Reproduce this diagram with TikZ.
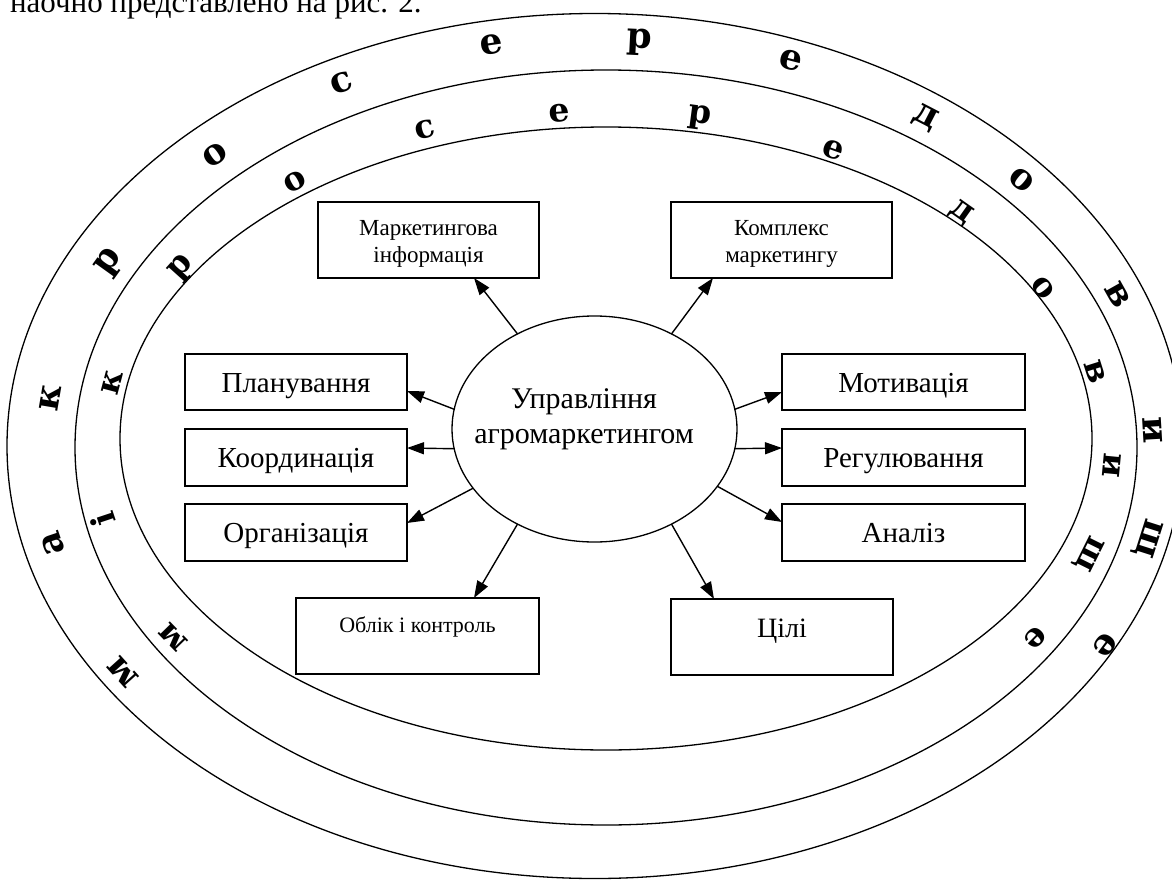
\documentclass[tikz,border=0pt]{standalone}
\usepackage{fontspec}
\setmainfont{Liberation Serif}
\newfontfamily\ringfont{DejaVu Serif}
\usetikzlibrary{arrows.meta,shapes.geometric}
\newcommand\myfs[1]{\fontsize{#1pt}{#1pt}\selectfont}
\begin{document}
\begin{tikzpicture}[x=1pt,y=-1pt,line width=1.3pt,
  box/.style={draw,rectangle,inner sep=0pt,outer sep=0pt},
  txt/.style={anchor=base,inner sep=0pt,outer sep=0pt},
  arr/.style={-{Triangle[length=17pt,width=12pt]},line width=1.4pt},
  ringout/.style={inner sep=0pt,font=\ringfont\bfseries\myfs{36}},
  ringin/.style={inner sep=0pt,font=\ringfont\bfseries\myfs{33}}]
\useasboundingbox (0,0) rectangle (1172,880);
\node[txt,anchor=base west,font=\myfs{31}] (top) at (10,13) {наочно представлено на рис. 2.};
% rings
\draw (595,446) ellipse [x radius=588pt,y radius=432.5pt];
\draw (606,447.5) ellipse [x radius=531pt,y radius=377.5pt];
\draw (606,438.5) ellipse [x radius=486pt,y radius=311.5pt];
% outer ring letters
\foreach \ch/\px/\py [count=\i] in {м/123/672,а/53/543,к/50/398,р/110/263,о/215/155,с/342/83,е/492/45,р/639/42,е/791/60,д/925/118,о/1022/180,в/1118/295,и/1153/430,щ/1147/538,е/1105/645}{
  \pgfmathsetmacro\rot{atan2(-(\py-447)*1.912,\px-600)-90}
  \node[ringout,rotate=\rot] (o\i) at (\px,\py) {\ch};
}
% inner ring letters
\foreach \ch/\px/\py [count=\i] in {м/173/637,і/103/520,к/112/383,р/182/268,о/295/182,с/425/130,е/559/113,р/700/118,е/833/150,д/961/213,о/1043/288,в/1095/372,и/1112/465,щ/1088/553,е/1035/638}{
  \pgfmathsetmacro\rot{atan2(-(\py-443)*2.179,\px-606)-90}
  \node[ringin,rotate=\rot] (n\i) at (\px,\py) {\ch};
}
% centre
\node[draw,ellipse,minimum width=285pt,minimum height=226pt,inner sep=0pt,outer sep=0pt] (c) at (594.5,429) {};
\node[txt,font=\myfs{30}] (ct1) at (584,408) {Управління};
\node[txt,font=\myfs{30}] (ct2) at (584,443) {агромаркетингом};
% boxes
\node[box,minimum width=221pt,minimum height=76pt] (mi) at (428.5,240) {};
\node[box,minimum width=221pt,minimum height=76pt] (km) at (781.5,240) {};
\node[box,minimum width=222pt,minimum height=56pt] (pl) at (296,382) {};
\node[box,minimum width=222pt,minimum height=57pt] (ko) at (296,457.5) {};
\node[box,minimum width=222pt,minimum height=57pt] (or) at (296,532.5) {};
\node[box,minimum width=243pt,minimum height=56pt] (mo) at (903.5,382) {};
\node[box,minimum width=243pt,minimum height=57pt] (re) at (903.5,457.5) {};
\node[box,minimum width=243pt,minimum height=57pt] (an) at (903.5,532.5) {};
\node[box,minimum width=243pt,minimum height=76pt] (ob) at (417.5,636) {};
\node[box,minimum width=222pt,minimum height=76pt] (ts) at (782,637) {};
% texts
\node[txt,font=\myfs{23}] (mit1) at (428.5,235) {Маркетингова};
\node[txt,font=\myfs{23}] (mit2) at (428.5,262) {інформація};
\node[txt,font=\myfs{23}] (kmt1) at (781.5,235) {Комплекс};
\node[txt,font=\myfs{23}] (kmt2) at (781.5,262) {маркетингу};
\node[txt,font=\myfs{29}] (plt) at (296,392) {Планування};
\node[txt,font=\myfs{29}] (kot) at (296,467.5) {Координація};
\node[txt,font=\myfs{29}] (ort) at (296,542.5) {Організація};
\node[txt,font=\myfs{29}] (mot) at (903.5,392) {Мотивація};
\node[txt,font=\myfs{29}] (ret) at (903.5,467.5) {Регулювання};
\node[txt,font=\myfs{29}] (ant) at (903.5,542.5) {Аналіз};
\node[txt,font=\myfs{22}] (obt) at (417.5,632) {Облік і контроль};
\node[txt,font=\myfs{28}] (tst) at (782,637) {Цілі};
% arrows
\draw[arr] (c.129) -- ([xshift=45.5pt]mi.south);
\draw[arr] (c.51) -- ([xshift=-68.5pt]km.south);
\draw[arr] (c.172) -- ([yshift=-9pt]pl.east);
\draw[arr] (c.188) -- ([yshift=9.5pt]ko.east);
\draw[arr] (c.206) -- ([yshift=9.5pt]or.east);
\draw[arr] (c.231) -- ([xshift=56.5pt]ob.north);
\draw[arr] (c.8) -- ([yshift=-10pt]mo.west);
\draw[arr] (c.-8) -- ([yshift=9.5pt]re.west);
\draw[arr] (c.-25) -- ([yshift=10.5pt]an.west);
\draw[arr] (c.-51) -- ([xshift=-68pt]ts.north);
\end{tikzpicture}
\end{document}
